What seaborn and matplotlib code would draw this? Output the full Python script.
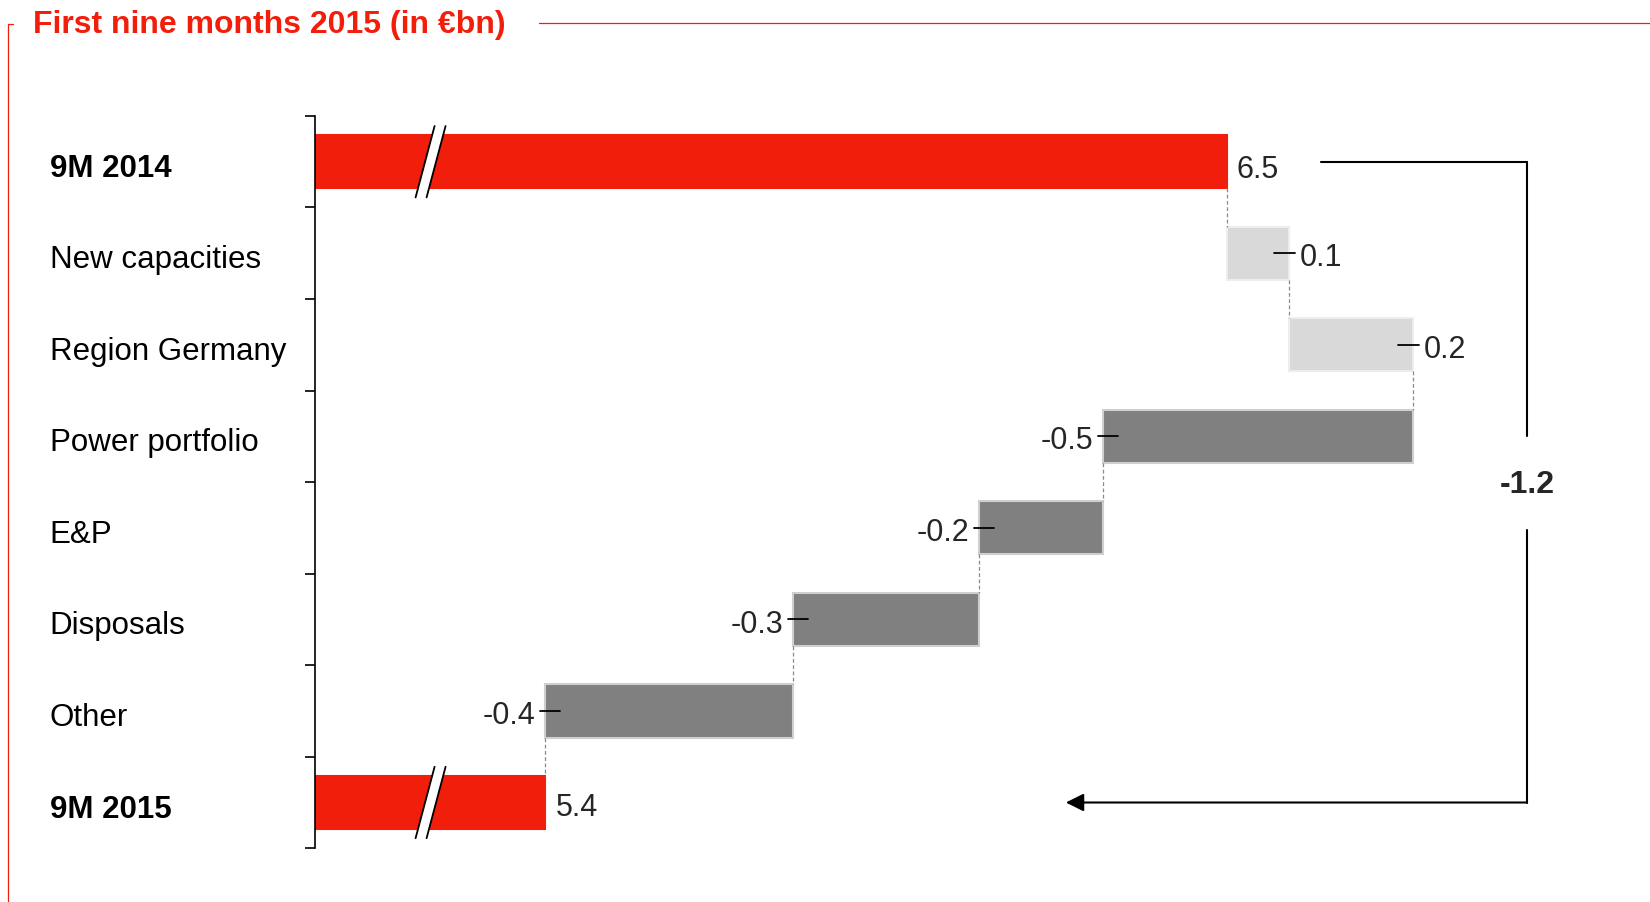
import matplotlib.pyplot as plt
import matplotlib.lines as mlines
import matplotlib.patches as mpatches
import matplotlib.transforms as mtransforms
import numpy as np
import seaborn as sns

# chart data
categories = ["9M 2014", "New capacities", "Region Germany", "Power portfolio",
              "E&P", "Disposals", "Other", "9M 2015"]
start_value = 6.5
changes = [0.1, 0.2, -0.5, -0.2, -0.3, -0.4]
end_value = 5.4
change_labels = ["0.1", "0.2", "-0.5", "-0.2", "-0.3", "-0.4"]
total_labels = ["6.5", "5.4"]
bridge_label = "-1.2"
title = "First nine months 2015 (in \u20acbn)"

RED = "#F21E0C"
LIGHT = "#D9D9D9"
DARK = "#808080"

sns.set_style("white")
plt.rcParams["font.family"] = ["Liberation Sans", "DejaVu Sans"]

# waterfall geometry from the data
levels = start_value + np.cumsum(changes)
prev = np.concatenate([[start_value], levels[:-1]])
lefts = [0.0] + list(np.minimum(prev, levels)) + [0.0]
widths = [start_value] + list(np.abs(changes)) + [end_value]
colors = [RED] + [LIGHT if c > 0 else DARK for c in changes] + [RED]
edges = [RED] + ["#EDEDED" if c > 0 else "#CFCFCF" for c in changes] + [RED]

fig = plt.figure(figsize=(16.5, 9.03), dpi=100)
ax = fig.add_axes([0.1909, 0.0595, 0.8091, 0.8110])

bar_h = 0.58
sns.barplot(x=widths, y=categories, order=categories, orient="h", left=lefts,
            width=bar_h, errorbar=None, color=DARK, ax=ax)
for patch, fc, ec in zip(ax.patches, colors, edges):
    patch.set_facecolor(fc)
    patch.set_edgecolor(ec)
    patch.set_linewidth(1.5)

x_min, x_max = 5.0285, 7.1824
ax.set_xlim(x_min, x_max)
ax.set_ylim(len(categories) - 0.5, -0.5)
px = (x_max - x_min) / (0.8091 * 1650)  # one pixel in data units

# axis styling
for side in ["top", "right", "bottom"]:
    ax.spines[side].set_visible(False)
ax.spines["left"].set_linewidth(1.2)
ax.spines["left"].set_color("black")
ax.set_xticks([])
ax.set_xlabel("")
ax.set_ylabel("")
ax.set_yticks(np.arange(-0.5, len(categories), 1.0), minor=True)
ax.tick_params(axis="y", which="both", left=True)
ax.tick_params(axis="y", which="minor", length=7.5, width=1.2, direction="out", color="black")
ax.tick_params(axis="y", which="major", length=0, pad=191, labelsize=22.5, labelcolor="black")
shift = mtransforms.ScaledTranslation(0, -2.5 / 100, fig.dpi_scale_trans)
for i, tick in enumerate(ax.yaxis.get_major_ticks()):
    lab = tick.label1
    lab.set_ha("left")
    lab.set_transform(lab.get_transform() + shift)
    if i in (0, len(categories) - 1):
        lab.set_fontweight("bold")

# dashed connectors
ends = [start_value] + list(levels)
for i, x in enumerate(ends):
    ax.plot([x, x], [i + bar_h / 2, i + 1 - bar_h / 2], color="#8A8A8A",
            lw=0.9, ls=(0, (3, 2)), zorder=1)

# value labels
fs = 22
dy = 0.045
ax.text(start_value + 9 * px, 0 + 0.08, total_labels[0], ha="left", va="center", fontsize=fs)
ax.text(end_value + 11 * px, len(categories) - 1 + dy, total_labels[1], ha="left",
        va="center", fontsize=fs)
for i, (c, lab) in enumerate(zip(changes, change_labels), start=1):
    x = levels[i - 1]
    if c > 0:
        ax.plot([x - 15 * px, x + 6 * px], [i, i], color="black", lw=1.3, zorder=3)
        ax.text(x + 11 * px, i + dy, lab, ha="left", va="center", fontsize=fs)
    else:
        ax.plot([x - 5 * px, x + 15 * px], [i, i], color="black", lw=1.3, zorder=3)
        ax.text(x - 10 * px, i + dy, lab, ha="right", va="center", fontsize=fs)

# axis break marks on the total bars
brk = 5.215
for row in (0, len(categories) - 1):
    top, bot = row - 0.39, row + 0.39
    poly = [(brk + 4 * px, top), (brk + 15 * px, top),
            (brk - 4 * px, bot), (brk - 15 * px, bot)]
    ax.add_patch(mpatches.Polygon(poly, closed=True, facecolor="white",
                                  edgecolor="none", zorder=3))
    ax.plot([brk + 4 * px, brk - 15 * px], [top, bot], color="black", lw=1.3, zorder=4)
    ax.plot([brk + 15 * px, brk - 4 * px], [top, bot], color="black", lw=1.3, zorder=4)

# bracket with total change
bx = 6.984
ax.plot([6.652, bx], [0, 0], color="black", lw=1.5, clip_on=False)
ax.plot([bx, bx], [0, 3.0], color="black", lw=1.5, clip_on=False)
ax.plot([bx, bx], [4.02, len(categories) - 1], color="black", lw=1.5, clip_on=False)
ax.annotate("", xy=(6.24, len(categories) - 1), xytext=(bx, len(categories) - 1),
            arrowprops=dict(arrowstyle="-|>", mutation_scale=27, lw=1.5,
                            color="black", shrinkA=0, shrinkB=0))
ax.text(bx, 3.52, bridge_label, ha="center", va="center", fontsize=23,
        fontweight="bold")

# title and red frame
fig.text(0.02, 0.972, title, color=RED, fontsize=23, fontweight="bold",
         ha="left", va="center")
fig.add_artist(mlines.Line2D([0.3267, 1.0], [0.9735, 0.9735], color=RED, lw=0.9,
                             transform=fig.transFigure))
fig.add_artist(mlines.Line2D([0.0078, 0.0048, 0.0048], [0.972, 0.972, 0.0],
                             color=RED, lw=0.9, transform=fig.transFigure))

fig.savefig("out.png", dpi=100)
